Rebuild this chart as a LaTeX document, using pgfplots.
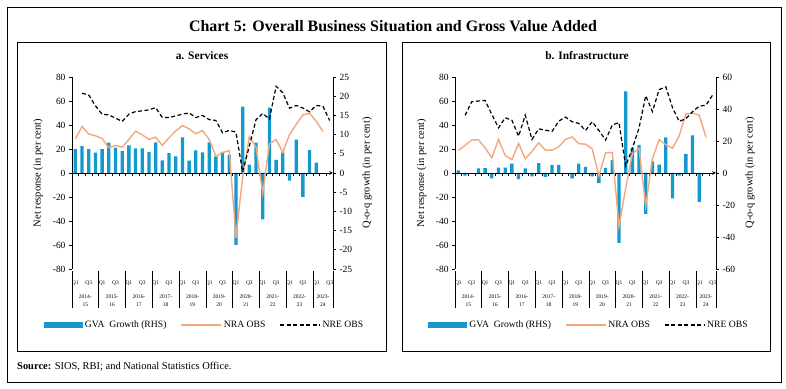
\documentclass[border=0pt]{standalone}
\usepackage{fontspec}
\setmainfont{Liberation Serif}
\usepackage{pgfplots}
\usepackage{pgfplotstable}
\pgfplotsset{compat=1.18}
\definecolor{barblue}{RGB}{18,153,206}
\definecolor{nraorange}{RGB}{246,166,125}

% ---------------- data: a. Services ----------------
\pgfplotstableread{
x y
0 6.2
1 7.0
2 6.2
3 5.3
4 6.2
5 7.9
6 6.6
7 5.7
8 7.2
9 6.4
10 6.4
11 5.5
12 8.0
13 3.3
14 5.2
15 4.3
16 9.3
17 3.2
18 5.9
19 5.4
20 8.0
21 4.3
22 5.5
23 4.7
24 -18.7
25 17.3
26 2.2
27 7.9
28 -12.1
29 17.0
30 3.4
31 5.4
32 -2.0
33 8.7
34 -6.2
35 6.0
36 2.7
}\svcgva
\pgfplotstableread{
x y
0 28.5
1 38.8
2 32.4
3 31.0
4 28.8
5 21.0
6 23.0
7 21.5
8 28.0
9 34.8
10 31.8
11 28.0
12 29.8
13 23.0
14 29.4
15 35.0
16 39.6
17 36.8
18 32.7
19 35.4
20 28.0
21 14.0
22 17.0
23 18.6
24 -54.0
25 -3.0
26 30.4
27 21.5
28 -17.0
29 24.2
30 28.0
31 17.2
32 32.0
33 40.5
34 48.3
35 49.8
36 43.0
37 34.6
}\svcnra
\pgfplotstableread{
x y
1 66.5
2 65.0
3 56.0
4 49.0
5 48.4
6 45.7
7 43.0
8 49.0
9 51.2
10 51.8
11 52.6
12 54.5
13 46.2
14 46.2
15 47.6
16 49.0
17 50.1
18 46.2
19 48.0
20 44.5
21 43.8
22 33.5
23 35.5
24 34.0
25 0.8
26 22.5
27 44.4
28 49.6
29 45.0
30 72.3
31 66.8
32 54.0
33 56.3
34 54.1
35 51.0
36 56.3
37 55.6
38 43.7
}\svcnre

% ---------------- data: b. Infrastructure ----------------
\pgfplotstableread{
x y
0 1.7
1 -1.7
3 2.9
4 3.1
5 -3.3
6 3.3
7 3.4
8 5.9
9 -3.8
10 2.9
11 -2.1
12 6.1
13 -2.5
14 5.0
15 5.0
17 -3.3
18 5.9
19 3.8
20 -2.1
21 -6.3
22 3.2
23 8.0
24 -43.7
25 51.0
26 15.8
27 17.6
28 -25.6
29 7.3
30 5.2
31 22.2
32 -15.8
33 -1.7
34 12.0
35 23.5
36 -18.0
}\infgva
\pgfplotstableread{
x y
0 18.8
1 23.0
2 27.5
3 27.7
4 21.0
5 12.6
6 28.0
7 14.6
8 11.2
9 24.6
10 11.8
11 17.9
12 25.2
13 19.0
14 19.0
15 21.8
16 28.0
17 30.0
18 24.4
19 24.0
20 20.2
21 -2.5
22 16.8
23 17.1
24 -44.4
25 -13.0
26 16.0
27 20.5
28 -27.4
29 12.0
30 27.7
31 23.5
32 20.6
33 31.0
34 49.2
35 50.0
36 48.2
37 29.8
}\infnra
\pgfplotstableread{
x y
1 48.0
2 59.4
3 60.0
4 60.5
5 48.8
6 37.6
7 46.0
8 44.0
9 30.7
10 48.2
11 27.9
12 36.8
13 35.7
14 34.6
15 43.2
16 46.6
17 42.7
18 41.3
19 35.4
20 42.7
21 35.5
22 27.4
23 40.0
24 42.0
25 5.8
26 20.5
27 37.5
28 64.4
29 51.2
30 69.5
31 71.8
32 54.5
33 43.0
34 45.2
35 51.2
36 55.7
37 56.5
38 65.0
}\infnre

\pgfplotsset{
  legbar/.style={legend image code/.code={\fill[barblue] (0bp,-2.8bp) rectangle (39bp,2.8bp);}},
  legline/.style={legend image code/.code={\draw[##1] (0bp,0bp) -- (40bp,0bp);}},
  nrastyle/.style={color=nraorange, line width=1.4bp, mark=none},
  nrestyle/.style={color=black, line width=1.2bp, dash pattern=on 4bp off 2.5bp, mark=none},
  base/.style={scale only axis, width=261bp, height=192bp, xmin=-0.5, xmax=38.5, clip=false,
    /pgf/number format/assume math mode=true,
    tick label style={font=\fontsize{9.5}{11}\selectfont},
    major tick length=3bp, tick align=outside, tick style={black, line width=0.6bp},
    axis line style={black, line width=0.7bp, -}},
  baraxis/.style={base, axis y line*=right, axis x line=none, ymin=-#1, ymax=#1,
    ybar, bar width=3.3bp, bar shift=0bp,
    legend columns=3,
    legend style={draw=none, fill=none, font=\fontsize{9.7}{11}\selectfont,
      /tikz/every even column/.append style={column sep=12bp}}},
  lineaxis/.style={base, axis y line*=left, axis x line=middle, ymin=-80, ymax=80,
    ytick={-80,-60,...,80}, xtick={-0.5,0.5,...,38.5}, xticklabels={},
    xtick align=center, x tick style={yshift=-1.5bp}},
}

\newcommand{\bottomlabels}{%
  \pgfplotsinvokeforeach{0,...,9}{
    \node[font=\fontsize{5.5}{7}\selectfont, inner sep=0pt] at (axis cs:{4*##1},-80) [yshift=-14bp] {Q1};
    \node[font=\fontsize{5.5}{7}\selectfont, inner sep=0pt] at (axis cs:{4*##1+2},-80) [yshift=-14bp] {Q3};
    \draw[line width=0.6bp] ([yshift=-2.5bp]axis cs:{4*##1-0.5},-80) -- ([yshift=-39.5bp]axis cs:{4*##1-0.5},-80);
  }
  \draw[line width=0.6bp] ([yshift=-2.5bp]axis cs:38.5,-80) -- ([yshift=-39.5bp]axis cs:38.5,-80);
  \pgfplotsinvokeforeach{0,...,8}{
    \node[font=\fontsize{5.5}{8}\selectfont, align=center, inner sep=0pt] at (axis cs:{4*##1+1.5},-80) [yshift=-32bp]
      {20\the\numexpr14+##1\relax-\\\the\numexpr15+##1\relax};
  }
  \node[font=\fontsize{5.5}{8}\selectfont, align=center, inner sep=0pt] at (axis cs:37,-80) [yshift=-32bp] {2023-\\24};
}

\begin{document}
\begin{tikzpicture}
\useasboundingbox (0bp,0bp) rectangle (786bp,389bp);
\draw[line width=1bp] (7bp,6.3bp) rectangle (781.7bp,381bp);
\node[font=\bfseries\fontsize{16}{18}\selectfont] at (393bp,362.5bp) {Chart 5: Overall Business Situation and Gross Value Added};
\draw[line width=0.9bp] (17bp,37.3bp) rectangle (386.7bp,346.7bp);
\draw[line width=0.9bp] (402.3bp,37.3bp) rectangle (770.7bp,346.7bp);
\node[font=\bfseries\fontsize{11.5}{13}\selectfont] at (202bp,333bp) {a. Services};
\node[font=\bfseries\fontsize{11.5}{13}\selectfont] at (587bp,333bp) {b. Infrastructure};
\node[anchor=west, font=\fontsize{10.5}{12}\selectfont, inner sep=0pt] at (17bp,22bp) {\textbf{Source:} SIOS, RBI; and National Statistics Office.};

% axis titles
\node[rotate=90, font=\fontsize{10.5}{12}\selectfont] at (38bp,216bp) {Net response (in per cent)};
\node[rotate=90, font=\fontsize{10.5}{12}\selectfont] at (367bp,216bp) {Q-o-q growth (in per cent)};
\node[rotate=90, font=\fontsize{10.5}{12}\selectfont] at (421.7bp,216bp) {Net response (in per cent)};
\node[rotate=90, font=\fontsize{10.5}{12}\selectfont] at (750bp,216bp) {Q-o-q growth (in per cent)};

% ---------- panel a ----------
\begin{axis}[baraxis=25, at={(72bp,120bp)}, anchor=south west,
  ytick={-25,-20,...,25},
  legend style={at={(0.5077,-0.2917)}, anchor=center}]
\addplot[fill=barblue, draw=none, legbar] table[x=x,y=y]{\svcgva};
\addlegendentry{GVA\ \ Growth (RHS)}
\addlegendimage{nrastyle, legline}
\addlegendentry{NRA OBS}
\addlegendimage{nrestyle, legline}
\addlegendentry{NRE OBS}
\end{axis}
\begin{axis}[lineaxis, at={(72bp,120bp)}, anchor=south west]
\addplot[nrastyle] table[x=x,y=y]{\svcnra};
\addplot[nrestyle] table[x=x,y=y]{\svcnre};
\bottomlabels
\end{axis}

% ---------- panel b ----------
\begin{axis}[baraxis=60, at={(455bp,120bp)}, anchor=south west,
  ytick={-60,-40,...,60},
  legend style={at={(0.5135,-0.2917)}, anchor=center}]
\addplot[fill=barblue, draw=none, legbar] table[x=x,y=y]{\infgva};
\addlegendentry{GVA\ \ Growth (RHS)}
\addlegendimage{nrastyle, legline}
\addlegendentry{NRA OBS}
\addlegendimage{nrestyle, legline}
\addlegendentry{NRE OBS}
\end{axis}
\begin{axis}[lineaxis, at={(455bp,120bp)}, anchor=south west]
\addplot[nrastyle] table[x=x,y=y]{\infnra};
\addplot[nrestyle] table[x=x,y=y]{\infnre};
\bottomlabels
\end{axis}
\end{tikzpicture}
\end{document}
